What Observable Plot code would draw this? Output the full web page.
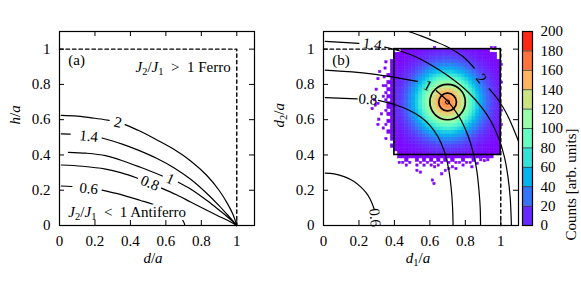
<!DOCTYPE html>
<html><head><meta charset="utf-8">
<script src="https://cdn.jsdelivr.net/npm/d3@7"></script>
<script src="https://cdn.jsdelivr.net/npm/@observablehq/plot@0.6"></script>
<style>
body{margin:0;background:#fff;}
#wrap{position:relative;width:581px;height:291px;overflow:hidden;background:#fff;}
#wrap svg{position:absolute;top:0;}
</style></head><body><div id="wrap"></div>
<script>
// ---------- data ----------
const axisTicks = [0, 0.2, 0.4, 0.6, 0.8, 1];
const countTicks = [0, 20, 40, 60, 80, 100, 120, 140, 160, 180, 200];
const unitBoundary = [[0, 1], [1, 1], [1, 0]];
const acceptBox = [{x1: 0.4, y1: 0.4, x2: 1, y2: 1}];
const ringCenter = [[0.7, 0.7]];
const ringRadii = [0.05, 0.1];
const binSize = 0.02;
const haloBinSize = 0.013;
const firstBinCenter = 0.41;
// counts inside the box, rows from y=0.41 (bottom) to y=0.99 (top), columns x=0.41..0.99
const countRows = [
 [0,1,1,1,2,3,3,4,5,6,7,8,8,9,9,9,9,8,8,7,6,5,4,3,3,2,1,1,1,1],
 [1,1,2,2,3,4,5,6,7,9,10,11,12,13,13,13,13,12,11,10,9,7,6,5,4,3,2,2,1,1],
 [1,2,2,3,4,5,7,9,10,12,14,16,17,18,19,19,18,17,16,14,12,10,9,7,5,4,3,2,2,1],
 [1,2,3,4,6,8,10,12,15,17,20,22,24,25,26,26,25,24,22,20,17,15,12,10,8,6,4,3,2,1],
 [2,3,4,6,8,10,13,16,20,23,27,30,33,35,36,36,35,33,30,27,23,20,16,13,10,8,6,4,3,2],
 [3,4,5,8,10,13,17,22,26,31,36,40,43,46,47,47,46,43,40,36,31,26,22,17,13,10,8,5,4,3],
 [3,5,7,10,13,17,22,28,34,40,46,51,55,59,60,60,59,55,51,46,40,34,28,22,17,13,10,7,5,3],
 [4,6,9,12,16,22,28,35,42,50,57,64,69,73,75,75,73,69,64,57,50,42,35,28,22,16,12,9,6,4],
 [5,7,10,15,20,26,34,42,51,60,69,77,84,89,91,91,89,84,77,69,60,51,42,34,26,20,15,10,7,5],
 [6,9,12,17,23,31,40,50,60,71,82,91,99,105,108,108,105,99,91,82,71,60,50,40,31,23,17,12,9,6],
 [7,10,14,20,27,36,46,57,69,82,94,105,114,121,124,124,121,114,105,94,82,69,57,46,36,27,20,14,10,7],
 [8,11,16,22,30,40,51,64,77,91,105,118,128,135,139,139,135,128,118,105,91,77,64,51,40,30,22,16,11,8],
 [8,12,17,24,33,43,55,69,84,99,114,128,139,147,151,151,147,139,128,114,99,84,69,55,43,33,24,17,12,8],
 [9,13,18,25,35,46,59,73,89,105,121,135,147,155,159,159,155,147,135,121,105,89,73,59,46,35,25,18,13,9],
 [9,13,19,26,36,47,60,75,91,108,124,139,151,159,164,164,159,151,139,124,108,91,75,60,47,36,26,19,13,9],
 [9,13,19,26,36,47,60,75,91,108,124,139,151,159,164,166,159,151,139,124,108,91,75,60,47,36,26,19,13,9],
 [9,13,18,25,35,46,59,73,89,105,121,135,147,155,159,159,155,147,135,121,105,89,73,59,46,35,25,18,13,9],
 [8,12,17,24,33,43,55,69,84,99,114,128,139,147,151,151,147,139,128,114,99,84,69,55,43,33,24,17,12,8],
 [8,11,16,22,30,40,51,64,77,91,105,118,128,135,139,139,135,128,118,105,91,77,64,51,40,30,22,16,11,8],
 [7,10,14,20,27,36,46,57,69,82,94,105,114,121,124,124,121,114,105,94,82,69,57,46,36,27,20,14,10,7],
 [6,9,12,17,23,31,40,50,60,71,82,91,99,105,108,108,105,99,91,82,71,60,50,40,31,23,17,12,9,6],
 [5,7,10,15,20,26,34,42,51,60,69,77,84,89,91,91,89,84,77,69,60,51,42,34,26,20,15,10,7,5],
 [4,6,9,12,16,22,28,35,42,50,57,64,69,73,75,75,73,69,64,57,50,42,35,28,22,16,12,9,6,4],
 [3,5,7,10,13,17,22,28,34,40,46,51,55,59,60,60,59,55,51,46,40,34,28,22,17,13,10,7,5,3],
 [3,4,5,8,10,13,17,22,26,31,36,40,43,46,47,47,46,43,40,36,31,26,22,17,13,10,8,5,4,3],
 [2,3,4,6,8,10,13,16,20,23,27,30,33,35,36,36,35,33,30,27,23,20,16,13,10,8,6,4,3,2],
 [1,2,3,4,6,8,10,12,15,17,20,22,24,25,26,26,25,24,22,20,17,15,12,10,8,6,4,3,2,1],
 [1,2,2,3,4,5,7,9,10,12,14,16,17,18,19,19,18,17,16,14,12,10,9,7,5,4,3,2,2,0],
 [1,1,2,2,3,4,5,6,7,9,10,11,12,13,13,13,13,12,11,10,9,7,6,5,4,3,2,2,1,0],
 [0,0,1,1,2,3,3,4,5,6,7,8,8,9,9,9,9,8,8,7,6,5,4,3,3,2,1,0,0,0]
];
// counts in the full-size bins just outside the box: [x center, y center, count]
const haloNear = [
 [0.39,0.45,1],[0.39,0.49,1],[0.39,0.51,2],[0.39,0.53,1],[0.39,0.55,1],[0.39,0.57,1],[0.39,0.59,2],[0.39,0.61,1],[0.39,0.63,2],
 [0.39,0.65,1],[0.39,0.67,2],[0.39,0.69,2],[0.39,0.71,1],[0.39,0.73,2],[0.39,0.75,1],[0.39,0.77,2],[0.39,0.79,1],
 [0.39,0.81,1],[0.39,0.83,1],[0.39,0.85,2],[0.39,0.87,1],[0.39,0.89,1],[0.39,0.91,1],[0.39,0.93,1],
 [0.37,0.53,1],[0.37,0.59,1],[0.37,0.63,1],[0.37,0.67,1],[0.37,0.69,1],[0.37,0.73,1],[0.37,0.77,1],[0.37,0.81,1],[0.37,0.85,1],
 [0.43,0.39,1],[0.45,0.39,1],[0.47,0.39,2],[0.49,0.39,1],[0.51,0.39,2],[0.53,0.39,1],[0.55,0.39,2],[0.57,0.39,2],
 [0.59,0.39,1],[0.61,0.39,2],[0.63,0.39,2],[0.65,0.39,1],[0.67,0.39,2],[0.69,0.39,2],[0.71,0.39,1],[0.73,0.39,2],
 [0.75,0.39,1],[0.77,0.39,2],[0.79,0.39,1],[0.81,0.39,1],[0.83,0.39,2],[0.85,0.39,1],[0.87,0.39,1],[0.89,0.39,1],[0.91,0.39,1],
 [0.93,0.39,1],[0.95,0.39,1],
 [0.47,0.37,1],[0.53,0.37,1],[0.57,0.37,1],[0.61,0.37,1],[0.65,0.37,1],[0.69,0.37,1],[0.73,0.37,1],[0.79,0.37,1],[0.85,0.37,1]
];
// scattered single counts further out (small bins): [x center, y center, count]
const haloFar = [
 [0.355,0.49,1],[0.355,0.57,1],[0.355,0.65,1],[0.355,0.71,1],[0.355,0.75,1],[0.355,0.79,1],[0.35,0.89,1],[0.355,0.925,1],
 [0.34,0.55,1],[0.33,0.63,1],[0.34,0.73,1],[0.34,0.79,1],[0.32,0.87,1],[0.345,0.84,1],
 [0.31,0.57,1],[0.31,0.69,1],[0.31,0.83,1],[0.295,0.68,1],[0.29,0.71,1],[0.30,0.77,1],[0.277,0.66,1],[0.315,0.6,1],
 [0.43,0.355,1],[0.45,0.355,1],[0.49,0.355,1],[0.55,0.355,1],[0.59,0.355,1],[0.63,0.355,1],[0.67,0.355,1],[0.71,0.355,1],
 [0.75,0.355,1],[0.77,0.355,1],[0.81,0.355,1],[0.83,0.355,1],[0.89,0.37,1],[0.91,0.365,1],[0.93,0.37,1],
 [0.47,0.34,1],[0.53,0.34,1],[0.57,0.34,1],[0.61,0.34,1],[0.65,0.34,1],[0.73,0.33,1],[0.79,0.34,1],[0.87,0.35,1],
 [0.53,0.31,1],[0.63,0.33,1],[0.69,0.31,1],[0.75,0.32,1],[0.84,0.33,1],[0.55,0.30,1],[0.67,0.29,1],[0.71,0.32,1],
 [0.617,0.255,1],[0.626,0.235,1],
 [1.006,0.57,1],[1.006,0.65,1],[1.006,0.81,1],[1.006,0.91,1],[0.63,1.006,1],[0.95,1.006,1],[0.97,1.006,1]
];

// contour lines, left panel (d/a, h/a); null = gap for the label
const left2  = [[0.01,0.624],[0.1,0.62],[0.2,0.608],[0.28,0.596],null,[0.37,0.572],[0.45,0.537],[0.55,0.485],[0.645,0.432],[0.74,0.366],[0.83,0.285],[0.9,0.2],[0.95,0.12],[0.98,0.06],[1,0]];
const left14 = [[0.01,0.52],[0.06,0.518],null,[0.24,0.496],[0.35,0.463],[0.447,0.426],[0.55,0.38],[0.645,0.328],[0.74,0.262],[0.83,0.183],[0.9,0.113],[0.95,0.058],[1,0]];
const left1  = [[0.05,0.415],[0.15,0.41],[0.26,0.396],[0.36,0.366],[0.457,0.33],[0.58,0.281],null,[0.67,0.245],[0.75,0.2],[0.834,0.14],[0.9,0.088],[0.95,0.047],[1,0]];
const left08 = [[0.01,0.343],[0.13,0.336],[0.26,0.32],[0.35,0.298],[0.44,0.268],null,[0.575,0.212],[0.66,0.174],[0.74,0.133],[0.82,0.092],[0.89,0.057],[0.95,0.028],[1,0]];
const left06 = [[0.01,0.224],[0.07,0.221],null,[0.24,0.201],[0.32,0.182],[0.39,0.162],[0.457,0.142],[0.523,0.122],[0.58,0.103],[0.63,0.083],[0.665,0.062],[0.69,0.038],[0.703,0.015],[0.707,0]];
const leftLabels = [
 {x:0.33, y:0.585, text:"2", angle:13},
 {x:0.165, y:0.506, text:"1.4", angle:6},
 {x:0.625, y:0.264, text:"1", angle:23},
 {x:0.51, y:0.24, text:"0.8", angle:23},
 {x:0.165, y:0.209, text:"0.6", angle:6}
];
// contour lines, right panel (d1/a, d2/a)
const right06 = [[0.01,0.297],[0.06,0.293],[0.12,0.276],[0.17,0.251],[0.21,0.219],[0.24,0.186],[0.262,0.152],[0.278,0.115],[0.285,0.095]];
const right08 = [[0.01,0.725],[0.19,0.718],null,[0.31,0.709],[0.40,0.686],[0.48,0.655],[0.55,0.614],[0.60,0.568],[0.645,0.505],[0.68,0.425],[0.705,0.325],[0.72,0.215],[0.728,0.105],[0.731,0]];
const right1  = [[0.01,0.881],[0.27,0.86],[0.53,0.817],null,[0.635,0.765],[0.70,0.705],[0.75,0.64],[0.78,0.59],[0.815,0.51],[0.845,0.41],[0.865,0.31],[0.877,0.2],[0.884,0.1],[0.886,0]];
const right14 = [[0.01,1.044],[0.2,1.033],null,[0.345,1.011],[0.40,0.998],[0.50,0.965],[0.607,0.91],[0.70,0.85],[0.815,0.757],[0.90,0.66],[0.947,0.587],[0.99,0.49],[1.02,0.39],[1.04,0.28],[1.053,0.16],[1.058,0.06],[1.06,0]];
const right2  = [[0.48,1.1],[0.55,1.075],[0.62,1.047],[0.70,1.012],[0.79,0.955],[0.85,0.893],null,[0.935,0.775],[0.97,0.733],[1.01,0.675],[1.045,0.61],[1.075,0.54],[1.1,0.478]];
const rightLabels = [
 {x:0.275, y:1.028, text:"1.4", angle:8},
 {x:0.588, y:0.792, text:"1", angle:28},
 {x:0.25, y:0.716, text:"0.8", angle:3},
 {x:0.89, y:0.834, text:"2", angle:52},
 {x:0.29, y:0.045, text:"0.6", angle:85}
];
const panelTags = ["(a)", "(b)"];
const ferroLabel = "J2/J1 > 1 Ferro";
const antiLabel = "J2/J1 < 1 Antiferro";
const axisTitles = {leftX: "d/a", leftY: "h/a", rightX: "d1/a", rightY: "d2/a", color: "Counts [arb. units]"};

// ---------- styling helpers ----------
const FONT = {fontFamily: "'Liberation Serif', 'DejaVu Serif', serif", fontSize: "15px", background: "none", color: "black", overflow: "visible"};
const rainbow = t => {
  const r = Math.min(1, Math.abs(2 * t - 0.5)), g = Math.sin(Math.PI * t), b = Math.max(0, Math.cos(Math.PI * t / 2));
  return `rgb(${Math.round(r*255)},${Math.round(g*255)},${Math.round(b*255)})`;
};
const colorOpts = {type: "linear", domain: [countTicks[0], countTicks[countTicks.length-1]], interpolate: rainbow, clamp: true};
const px = d => d ? d[0] : NaN, py = d => d ? d[1] : NaN;
const H = 291, MT = 31, MB = 66;
const fmt = d => String(d);

function frameMarks(pw, ph) {
  return [
    Plot.ruleX(axisTicks, {x: d => d, insetTop: ph - 5, stroke: "black"}),
    Plot.ruleX(axisTicks, {x: d => d, insetBottom: ph - 5, stroke: "black"}),
    Plot.ruleY(axisTicks, {y: d => d, insetRight: pw - 5, stroke: "black"}),
    Plot.ruleY(axisTicks, {y: d => d, insetLeft: pw - 5, stroke: "black"}),
    Plot.frame({stroke: "black", strokeWidth: 1.2})
  ];
}
function curve(data) {
  return Plot.line(data, {x: px, y: py, stroke: "black", strokeWidth: 1.2, curve: "catmull-rom"});
}
const rich = {
  "h/a": [["h","i"],["/",""],["a","i"]],
  "d/a": [["d","i"],["/",""],["a","i"]],
  "d1/a": [["d","i"],["1","s"],["/",""],["a","i"]],
  "d2/a": [["d","i"],["2","s"],["/",""],["a","i"]],
  "J2/J1 > 1 Ferro": [["J","i"],["2","s"],["/",""],["J","i"],["1","s"],["\u2002>\u20021 Ferro",""]],
  "J2/J1 < 1 Antiferro": [["J","i"],["2","s"],["/",""],["J","i"],["1","s"],["\u2002<\u20021 Antiferro",""]]
};
function enrich(svg) {
  svg.querySelectorAll("text").forEach(t => {
    const segs = rich[t.textContent];
    if (!segs) return;
    t.textContent = "";
    let down = false;
    for (const [s, st] of segs) {
      const sp = document.createElementNS("http://www.w3.org/2000/svg", "tspan");
      sp.textContent = s;
      if (st === "i") sp.setAttribute("font-style", "italic");
      if (st === "s") { sp.setAttribute("font-size", "10.5px"); sp.setAttribute("dy", "3px"); down = true; }
      else if (down) { sp.setAttribute("dy", "-3px"); down = false; }
      t.appendChild(sp);
    }
  });
}
const wrap = document.getElementById("wrap");
function place(svg, left) { svg.style.left = left + "px"; wrap.appendChild(svg); enrich(svg); }

// ---------- left panel ----------
{
  const W = 270, ML = 59, MR = 16;
  const pw = W - ML - MR, ph = H - MT - MB;
  const svg = Plot.plot({
    width: W, height: H, marginLeft: ML, marginRight: MR, marginTop: MT, marginBottom: MB,
    style: FONT,
    x: {domain: [0, 1.1], ticks: axisTicks, tickSize: 0, tickPadding: 10, tickFormat: fmt, label: null},
    y: {domain: [0, 1.1], ticks: axisTicks, tickSize: 0, tickPadding: 9, tickFormat: fmt, label: null},
    marks: [
      Plot.line(unitBoundary, {x: px, y: py, stroke: "black", strokeWidth: 1.4, strokeDasharray: "3.5,3"}),
      curve(left2), curve(left14), curve(left1), curve(left08), curve(left06),
      Plot.text(leftLabels, {x: "x", y: "y", text: "text", rotate: "angle", fill: "black"}),
      Plot.text([panelTags[0]], {x: 0.05, y: 0.935, text: d => d, textAnchor: "start", fill: "black"}),
      Plot.text([ferroLabel], {x: 0.966, y: 0.9, text: d => d, textAnchor: "end", fill: "black"}),
      Plot.text([antiLabel], {x: 0.05, y: 0.075, text: d => d, textAnchor: "start", fill: "white", stroke: "white", strokeWidth: 6}),
      Plot.text([antiLabel], {x: 0.05, y: 0.075, text: d => d, textAnchor: "start", fill: "black"}),
      ...frameMarks(pw, ph),
      Plot.text([axisTitles.leftX], {frameAnchor: "bottom", dx: -4, dy: 37, text: d => d, fill: "black"}),
      Plot.text([axisTitles.leftY], {frameAnchor: "left", dx: -44, dy: -4, rotate: -90, text: d => d, fill: "black"})
    ]
  });
  place(svg, 0);
}

// ---------- right panel ----------
{
  const W = 250, ML = 53, MR = 2;
  const pw = W - ML - MR, ph = H - MT - MB;
  const cells = countRows.flatMap((row, r) => row.map((n, c) => ({x: firstBinCenter + c * binSize, y: firstBinCenter + r * binSize, n, s: binSize})))
    .concat(haloNear.map(([x, y, n]) => ({x, y, n, s: binSize})))
    .concat(haloFar.map(([x, y, n]) => ({x, y, n, s: haloBinSize})))
    .filter(d => d.n > 0);
  const rings = ringRadii.map(radius => ({x: ringCenter[0][0], y: ringCenter[0][1], radius}));
  const svg = Plot.plot({
    width: W, height: H, marginLeft: ML, marginRight: MR, marginTop: MT, marginBottom: MB,
    style: FONT,
    x: {domain: [0, 1.1], ticks: axisTicks, tickSize: 0, tickPadding: 10, tickFormat: fmt, label: null},
    y: {domain: [0, 1.1], ticks: axisTicks, tickSize: 0, tickPadding: 9, tickFormat: fmt, label: null},
    color: colorOpts,
    r: {type: "linear", domain: [0, 1.1], range: [0, pw]},
    marks: [
      Plot.line(unitBoundary, {x: px, y: py, stroke: "black", strokeWidth: 1.4, strokeDasharray: "3.5,3"}),
      Plot.rect(cells, {x1: d => d.x - d.s/2, x2: d => d.x + d.s/2, y1: d => d.y - d.s/2, y2: d => d.y + d.s/2, fill: "n", stroke: "n", strokeWidth: 0.5}),
      Plot.rect(acceptBox, {x1: "x1", x2: "x2", y1: "y1", y2: "y2", fill: "none", stroke: "black", strokeWidth: 1.6}),
      curve(right06), curve(right08), curve(right1), curve(right14), curve(right2),
      Plot.dot(rings, {x: "x", y: "y", r: "radius", stroke: "black", strokeWidth: 1.7, fill: "none"}),
      Plot.dot(ringCenter, {x: px, y: py, r: 2, stroke: "black", strokeWidth: 1, fill: "none"}),
      Plot.text(rightLabels, {x: "x", y: "y", text: "text", rotate: "angle", fill: "black"}),
      Plot.text([panelTags[1]], {x: 0.05, y: 0.935, text: d => d, textAnchor: "start", fill: "black"}),
      ...frameMarks(pw, ph),
      Plot.text([axisTitles.rightX], {frameAnchor: "bottom", dx: -3, dy: 37, text: d => d, fill: "black"}),
      Plot.text([axisTitles.rightY], {frameAnchor: "left", dx: -44, dy: -1, rotate: -90, text: d => d, fill: "black"})
    ]
  });
  place(svg, 270);
}

// ---------- colour bar ----------
{
  const W = 61, ML = 2, MR = 49;
  const bands = countTicks.slice(0, -1).map((lo, i) => ({lo, hi: countTicks[i + 1]}));
  const svg = Plot.plot({
    width: W, height: H, marginLeft: ML, marginRight: MR, marginTop: MT, marginBottom: MB,
    style: FONT,
    x: {domain: [0, 1], axis: null},
    y: {domain: [countTicks[0], countTicks[countTicks.length-1]], ticks: countTicks, axis: "right", tickSize: 0, tickPadding: 8, label: null},
    color: colorOpts,
    marks: [
      Plot.rect(bands, {x1: 0, x2: 1, y1: "lo", y2: "hi", fill: d => (d.lo + d.hi) / 2}),
      Plot.ruleY(countTicks, {y: d => d, stroke: "#333", strokeWidth: 0.8}),
      Plot.frame({stroke: "black", strokeWidth: 1.2}),
      Plot.text([axisTitles.color], {frameAnchor: "right", dx: 39, rotate: -90, text: d => d, fill: "black"})
    ]
  });
  place(svg, 520);
}
</script></body></html>
